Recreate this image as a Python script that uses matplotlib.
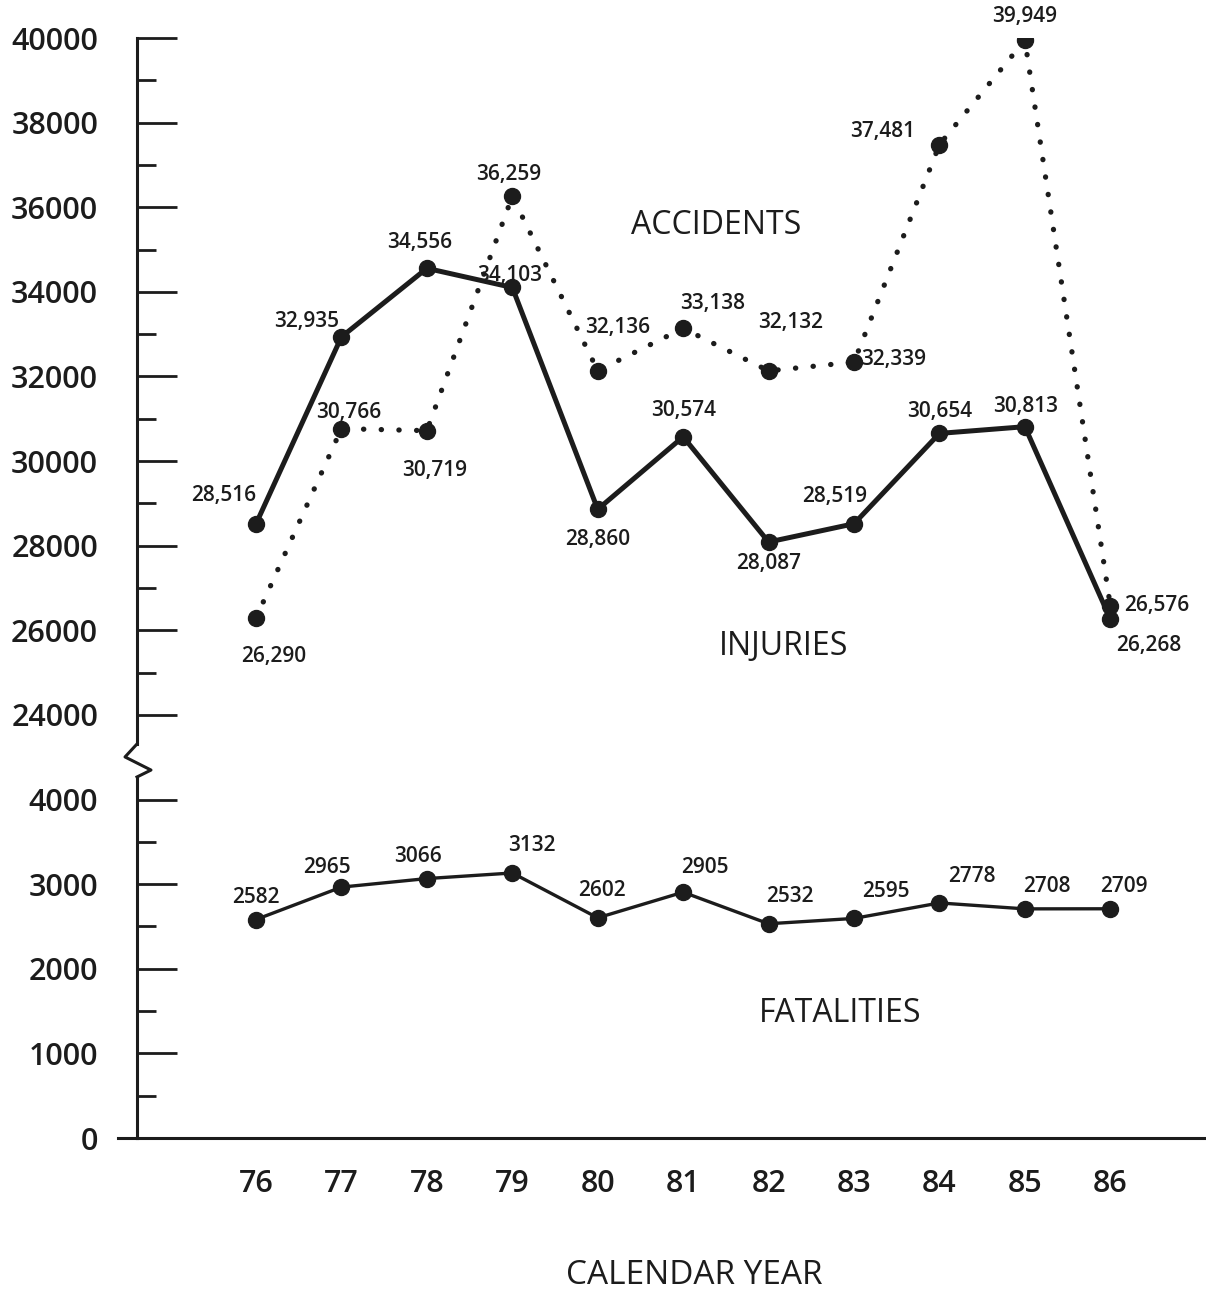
import numpy as np
import matplotlib.pyplot as plt

plt.rcParams['font.family'] = ['Open Sans', 'DejaVu Sans']

years = [76, 77, 78, 79, 80, 81, 82, 83, 84, 85, 86]
accidents = [26290, 30766, 30719, 36259, 32136, 33138, 32132, 32339, 37481, 39949, 26576]
injuries = [28516, 32935, 34556, 34103, 28860, 30574, 28087, 28519, 30654, 30813, 26268]
fatalities = [2582, 2965, 3066, 3132, 2602, 2905, 2532, 2595, 2778, 2708, 2709]

low_ticks = [0, 1000, 2000, 3000, 4000]
high_ticks = [24000, 26000, 28000, 30000, 32000, 34000, 36000, 38000, 40000]

# label offsets in pixels (dx, dy up)
acc_off = [(18, -38), (7, 16), (8, -40), (-4, 22), (20, 43), (29, 25), (22, 48),
           (40, 3), (-57, 13), (0, 24), (46, 0)]
inj_off = [(-32, 28), (-35, 15), (-7, 26), (-3, 12), (0, -30), (0, 26), (0, -21),
           (-19, 27), (0, 22), (1, 20), (38, -27)]
fat_off = [(0, 22), (-14, 20), (-9, 22), (20, 27), (4, 27), (22, 25), (21, 27),
           (32, 27), (32, 26), (22, 22), (14, 22)]


def forward(v):
    # broken axis: 0-4000 at full scale, 4000-24000 squeezed, 24000+ at half scale
    v = np.asarray(v, dtype=float)
    return np.where(v <= 4000, v,
                    np.where(v < 24000, 4000 + (v - 4000) / 20.0,
                             5000 + (v - 24000) / 2.0))


def inverse(y):
    y = np.asarray(y, dtype=float)
    return np.where(y <= 4000, y,
                    np.where(y < 5000, 4000 + (y - 4000) * 20.0,
                             24000 + (y - 5000) * 2.0))


INK = '#1c1c1c'

fig = plt.figure(figsize=(12.06, 12.89), dpi=100)
ax = fig.add_axes([137 / 1206, 151 / 1289, 1 - 137 / 1206, 1100 / 1289])
ax.set_yscale('function', functions=(forward, inverse))
ax.set_ylim(0, 40000)
ax.set_xlim(74.607, 87.12)

# lines
ax.plot(years, accidents, color=INK, lw=3.8, linestyle=(0, (0.05, 3.3)),
        dash_capstyle='round', marker='o', ms=11.5, zorder=3)
ax.plot(years, injuries, color=INK, lw=3.6, marker='o', ms=11.5, zorder=3)
ax.plot(years, fatalities, color=INK, lw=2.4, marker='o', ms=11.5, zorder=3)

for x, v, (dx, dy) in zip(years, accidents, acc_off):
    ax.annotate(f"{v:,}", (x, v), xytext=(dx, dy), textcoords='offset pixels',
                ha='center', va='center', fontsize=15, fontweight='semibold',
                color=INK, annotation_clip=False)
for x, v, (dx, dy) in zip(years, injuries, inj_off):
    ax.annotate(f"{v:,}", (x, v), xytext=(dx, dy), textcoords='offset pixels',
                ha='center', va='center', fontsize=15, fontweight='semibold',
                color=INK, annotation_clip=False)
for x, v, (dx, dy) in zip(years, fatalities, fat_off):
    ax.annotate(f"{v}", (x, v), xytext=(dx, dy), textcoords='offset pixels',
                ha='center', va='center', fontsize=15, fontweight='semibold',
                color=INK, annotation_clip=False)

# series names
ax.text(81.39, 35560, 'ACCIDENTS', ha='center', va='center', fontsize=23,
        fontweight='medium', color=INK)
ax.text(82.18, 25610, 'INJURIES', ha='center', va='center', fontsize=23,
        fontweight='medium', color=INK)
ax.text(82.84, 1470, 'FATALITIES', ha='center', va='center', fontsize=23,
        fontweight='medium', color=INK)

# axes styling
for s in ['top', 'right', 'left']:
    ax.spines[s].set_visible(False)
ax.spines['bottom'].set_linewidth(2.2)
ax.spines['bottom'].set_color(INK)

yt = low_ticks + high_ticks
ax.set_yticks(yt, labels=[str(t) for t in yt])
ax.set_yticks([500, 1500, 2500, 3500] + list(range(25000, 40000, 2000)), minor=True)
ax.tick_params(axis='y', which='major', direction='in', length=29, width=2,
               color=INK, pad=28, labelsize=22, labelcolor=INK)
ax.tick_params(axis='y', which='minor', direction='in', length=14, width=2, color=INK)
for lab in ax.get_yticklabels():
    lab.set_fontweight('semibold')

ax.set_xticks(years, labels=[str(y) for y in years])
ax.tick_params(axis='x', length=0, pad=22, labelsize=22, labelcolor=INK)
for lab in ax.get_xticklabels():
    lab.set_fontweight('semibold')

# left spine with a zigzag break
tr = ax.transAxes
ax.plot([0, 0], [0, 0.3282], transform=tr, color=INK, lw=2.2, clip_on=False)
ax.plot([0, 0.0131, -0.0112, 0], [0.3282, 0.3345, 0.3464, 0.3582],
        transform=tr, color=INK, lw=2.2, clip_on=False)
ax.plot([0, 0], [0.3582, 1.0], transform=tr, color=INK, lw=2.2, clip_on=False)
ax.plot([-0.018, 0], [0, 0], transform=tr, color=INK, lw=2.2, clip_on=False)

fig.text(694 / 1206, 1 - 1275 / 1289, 'CALENDAR YEAR', ha='center', va='center',
         fontsize=24, fontweight='medium', color=INK)

fig.savefig('out.png', dpi=100, facecolor='white')
